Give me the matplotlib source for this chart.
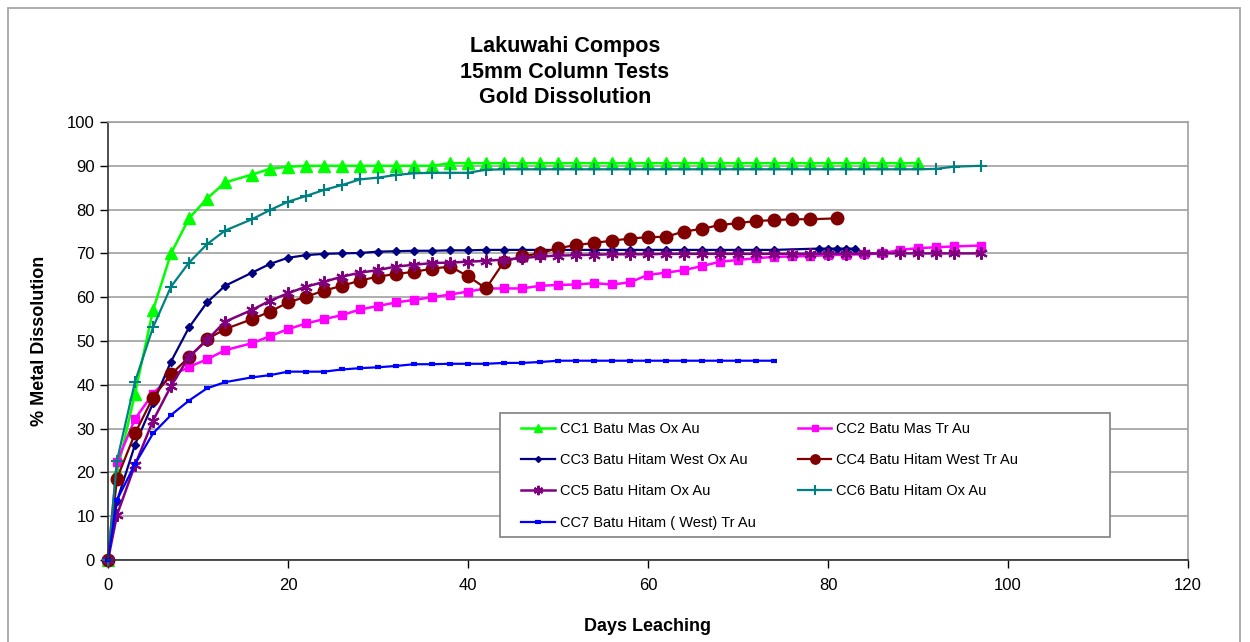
import matplotlib.pyplot as plt
from matplotlib.patches import Rectangle

plt.rcParams['font.family'] = ['Liberation Sans', 'DejaVu Sans']

# sample days
days_all = [0, 1, 3, 5, 7, 9, 11, 13, 16, 18, 20, 22, 24, 26, 28, 30, 32, 34, 36, 38,
            40, 42, 44, 46, 48, 50, 52, 54, 56, 58, 60, 62, 64, 66, 68, 70, 72, 74, 76,
            78, 80, 82, 84, 86, 88, 90, 92, 94, 97]

cc1_days = days_all[:46]  # up to 90
cc1 = [0, 20, 38, 57, 70, 78, 82.5, 86.2, 88, 89.3, 89.8, 90, 90, 90, 90, 90, 90, 90, 90,
       90.6, 90.6, 90.6, 90.6, 90.6, 90.6, 90.6, 90.6, 90.6, 90.6, 90.6, 90.6, 90.6, 90.6,
       90.6, 90.6, 90.6, 90.6, 90.6, 90.6, 90.6, 90.6, 90.6, 90.6, 90.6, 90.6, 90.6]

cc2_days = days_all
cc2 = [0, 22.4, 32.2, 38, 42, 44.1, 45.8, 47.9, 49.5, 51.1, 52.7, 54, 55, 55.9, 57.2, 58,
       58.8, 59.4, 60, 60.6, 61.3, 62, 62, 62, 62.6, 62.8, 62.9, 63.2, 62.9, 63.4, 65.1,
       65.6, 66.2, 67.1, 68.1, 68.5, 68.9, 69.2, 69.3, 69.4, 69.6, 69.7, 69.8, 70, 70.8,
       71.2, 71.4, 71.6, 71.8]

cc3_days = days_all[:38] + [79, 80, 81, 82, 83]
cc3 = [0, 13.5, 26.3, 35.8, 45.3, 53.1, 58.8, 62.6, 65.6, 67.6, 69, 69.6, 69.9, 70, 70.1,
       70.4, 70.5, 70.6, 70.6, 70.7, 70.7, 70.8, 70.8, 70.8, 70.8, 70.8, 70.8, 70.8, 70.8,
       70.8, 70.8, 70.8, 70.8, 70.8, 70.8, 70.8, 70.8, 70.8, 71.1, 71.1, 71.1, 71.1, 71.1]

cc4_days = days_all[:40] + [81]
cc4 = [0, 18.6, 28.9, 37.1, 42.4, 46.3, 50.4, 52.7, 55, 56.7, 58.8, 60.1, 61.5, 62.6, 63.8,
       64.7, 65.3, 65.8, 66.5, 67, 64.8, 62, 68.1, 69.3, 70, 71.2, 71.9, 72.4, 72.9, 73.4,
       73.7, 73.8, 75, 75.6, 76.5, 76.9, 77.4, 77.6, 77.8, 77.8, 78]

cc5_days = days_all
cc5 = [0, 10.3, 21.7, 31.8, 39.7, 46.4, 50.2, 54.4, 57.1, 59.2, 60.9, 62.4, 63.5, 64.7, 65.6,
       66.2, 67, 67.4, 67.8, 67.9, 68.1, 68.3, 68.6, 68.9, 69.3, 69.5, 69.6, 69.7, 69.8,
       69.8, 69.8, 69.9, 69.9, 69.9, 69.9, 69.9, 69.9, 69.9, 69.9, 69.9, 69.9, 69.9, 70,
       70, 70, 70, 70, 70, 70]

cc6_days = days_all
cc6 = [0, 22.7, 40.7, 53.1, 62.4, 67.9, 72.1, 75.2, 77.8, 79.9, 81.8, 83.1, 84.5, 85.6, 86.9,
       87.3, 87.9, 88.3, 88.4, 88.4, 88.4, 89.1, 89.2, 89.2, 89.2, 89.2, 89.2, 89.2, 89.2,
       89.2, 89.2, 89.2, 89.2, 89.2, 89.2, 89.2, 89.2, 89.2, 89.2, 89.2, 89.2, 89.2, 89.2,
       89.2, 89.2, 89.2, 89.3, 89.8, 90]

cc7_days = days_all[:38]
cc7 = [0, 13.7, 21.9, 28.9, 33.1, 36.4, 39.2, 40.6, 41.7, 42.2, 43, 43, 43, 43.5, 43.8, 44,
       44.3, 44.7, 44.7, 44.8, 44.8, 44.8, 45, 45, 45.2, 45.5, 45.5, 45.5, 45.5, 45.5, 45.5,
       45.5, 45.5, 45.5, 45.5, 45.5, 45.5, 45.5]

labels = ['CC1 Batu Mas Ox Au', 'CC2 Batu Mas Tr Au', 'CC3 Batu Hitam West Ox Au',
          'CC4 Batu Hitam West Tr Au', 'CC5 Batu Hitam Ox Au', 'CC6 Batu Hitam Ox Au',
          'CC7 Batu Hitam ( West) Tr Au']

W, H = 1250, 642
fig = plt.figure(figsize=(12.5, 6.42), dpi=100)
fig.patches.append(Rectangle((0.006, -0.02), 0.986, 1.008, transform=fig.transFigure,
                             fill=False, edgecolor='#a0a0a0', linewidth=1.2))
ax = fig.add_axes([108 / W, 1 - 560 / H, 1080 / W, 438 / H])

kw = dict(clip_on=False)
h1, = ax.plot(cc1_days, cc1, color='#00ff00', marker='^', markersize=8, lw=1.8, **kw)
h2, = ax.plot(cc2_days, cc2, color='#ff00ff', marker='s', markersize=5.5, lw=1.8, **kw)
h3, = ax.plot(cc3_days, cc3, color='#000080', marker='D', markersize=4, lw=1.6, **kw)
h4, = ax.plot(cc4_days, cc4, color='#800000', marker='o', markersize=9, lw=1.6, **kw)
h5, = ax.plot(cc5_days, cc5, color='#800080', marker=(6, 2, 0), markersize=9, mew=1.5,
              lw=1.8, **kw)
h6, = ax.plot(cc6_days, cc6, color='#008080', marker='+', markersize=9, mew=1.5, lw=1.6, **kw)
h7, = ax.plot(cc7_days, cc7, color='#0000ff', marker='_', markersize=5, mew=3, lw=1.6, **kw)

ax.set_xlim(0, 120)
ax.set_ylim(0, 100)
ax.set_xticks([0, 20, 40, 60, 80, 100, 120])
ax.set_yticks([0, 10, 20, 30, 40, 50, 60, 70, 80, 90, 100])
ax.tick_params(labelsize=12, direction='out', length=6, width=1)
ax.tick_params(axis='x', pad=7)
ax.grid(axis='y', color='#a0a0a0', lw=1.2)
ax.set_axisbelow(True)
for side in ['top', 'right']:
    ax.spines[side].set_color('#a0a0a0')
    ax.spines[side].set_linewidth(1.2)
for side in ['left', 'bottom']:
    ax.spines[side].set_color('#303030')
    ax.spines[side].set_linewidth(1.2)

ax.set_xlabel('Days Leaching', fontsize=13, fontweight='bold', labelpad=18)
ax.set_ylabel('% Metal Dissolution', fontsize=13, fontweight='bold', labelpad=14)

fig.text(0.452, 1 - 72 / H, 'Lakuwahi Compos\n15mm Column Tests\nGold Dissolution',
         ha='center', va='center', fontsize=15.5, fontweight='bold', linespacing=1.27)

# legend box drawn separately, entries placed inside it
fig.patches.append(Rectangle((500 / W, 1 - 537 / H), 610 / W, 124 / H,
                             transform=fig.transFigure, facecolor='white',
                             edgecolor='#808080', linewidth=1.2, zorder=5))
leg = fig.legend([h1, h3, h5, h7, h2, h4, h6],
                 [labels[0], labels[2], labels[4], labels[6], labels[1], labels[3], labels[5]],
                 ncol=2, loc='upper left', bbox_to_anchor=(521 / W, 1 - 422 / H),
                 bbox_transform=fig.transFigure, borderaxespad=0, borderpad=0,
                 fontsize=10.5, frameon=False, handlelength=2.3, handletextpad=0.35,
                 columnspacing=2.9, labelspacing=1.18)
leg.set_zorder(6)
for lh in leg.legend_handles:
    lh.set_markersize(lh.get_markersize() * 0.75)

fig.savefig('out.png', dpi=100)
